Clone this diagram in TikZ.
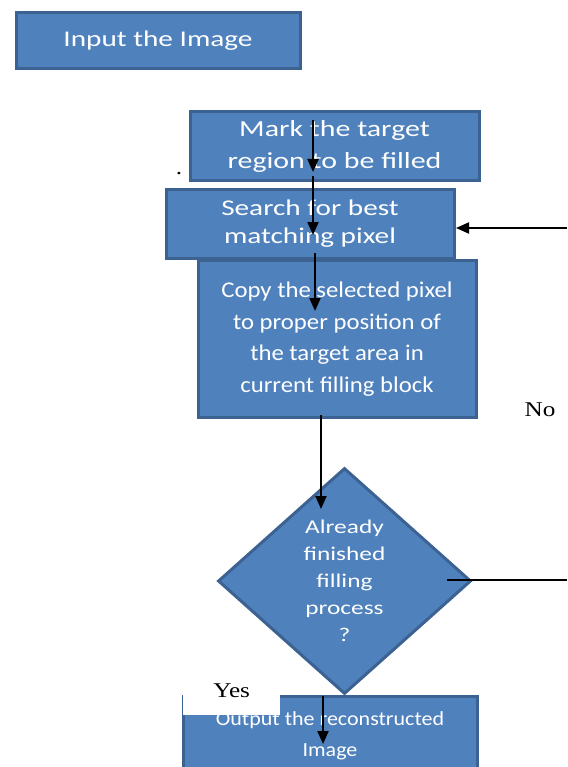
\documentclass[tikz,border=0pt]{standalone}
\usepackage{fontspec}
\usetikzlibrary{arrows.meta,shapes.geometric}
\newfontfamily\boxfont[FakeStretch=1.3]{Carlito}
\newfontfamily\narrowfont[FakeStretch=1.1]{Carlito}
\newfontfamily\lblfont[FakeStretch=1.2]{Liberation Serif}
\definecolor{boxfill}{RGB}{79,129,189}
\definecolor{boxline}{RGB}{60,98,146}
\begin{document}
\begin{tikzpicture}[>={Triangle[length=13pt,width=11pt]},x=1pt,y=-1pt,
		blk/.style={rectangle,draw=boxline,fill=boxfill,line width=3pt,text=white,align=center,inner sep=0pt},
		dec/.style={diamond,draw=boxline,fill=boxfill,line width=3pt,text=white,align=center,inner sep=0pt},
		arr/.style={->,line width=2pt},
		lbl/.style={font=\lblfont\fontsize{21}{24}\selectfont}]
		\clip (0,0) rectangle (567,767);
		\fill[white] (0,0) rectangle (567,767);
		\path
		(158,41)     node[blk,minimum width=284,minimum height=56,font=\boxfont\fontsize{22.5}{28}\selectfont] (in) {Input the Image}
		(334.5,146.5) node[blk,minimum width=289,minimum height=69,font=\boxfont\fontsize{23}{32}\selectfont] (mark) {Mark the target\\region to be filled}
		(310,224)    node[blk,minimum width=288,minimum height=68,font=\boxfont\fontsize{22.5}{28}\selectfont] (srch) {Search for best\\matching pixel}
		(337,339)    node[blk,minimum width=278,minimum height=157,font=\narrowfont\fontsize{22.5}{31.7}\selectfont] (copy) {Copy the selected pixel\\to proper position of\\the target area in\\current filling block}
		(344.5,581)  node[dec,minimum width=253,minimum height=226,font=\boxfont\fontsize{19.5}{27}\selectfont] (done) {Already\\finished\\filling\\process\\?}
		(330,736)    node[blk,minimum width=294,minimum height=80,font=\narrowfont\fontsize{20}{31}\selectfont] (out) {Output the reconstructed\\Image}
		;
		\node[lbl,fill=white,anchor=north west,inner xsep=0pt,inner ysep=0pt,minimum width=97,text height=13,text depth=18] (yes) at (183,684) {Yes};
		\node[lbl] (no) at (540,410) {No};
		\node[lbl] (dot) at (179,174) {.};
		% free ends of the arrows
		\path
		(313,120) coordinate (m1) (313,172) coordinate (m2)
		(313,176) coordinate (s1) (313,235) coordinate (s2)
		(315,253) coordinate (c1) (315,311) coordinate (c2)
		(321,415) coordinate (d1) (321,509) coordinate (d2)
		(323,696) coordinate (o1) (323,744) coordinate (o2)
		(447,580) coordinate (n1) (567,580) coordinate (n2)
		(567,228) coordinate (r1) (456,228) coordinate (r2)
		;
		\draw[arr] (m1)--(m2);
		\draw[arr] (s1)--(s2);
		\draw[arr] (c1)--(c2);
		\draw[arr] (d1)--(d2);
		\draw[arr] (o1)--(o2);
		\draw[line width=1.5pt] (n1)--(n2);
		\draw[arr] (r1)--(r2);
		\end{tikzpicture}
\end{document}
